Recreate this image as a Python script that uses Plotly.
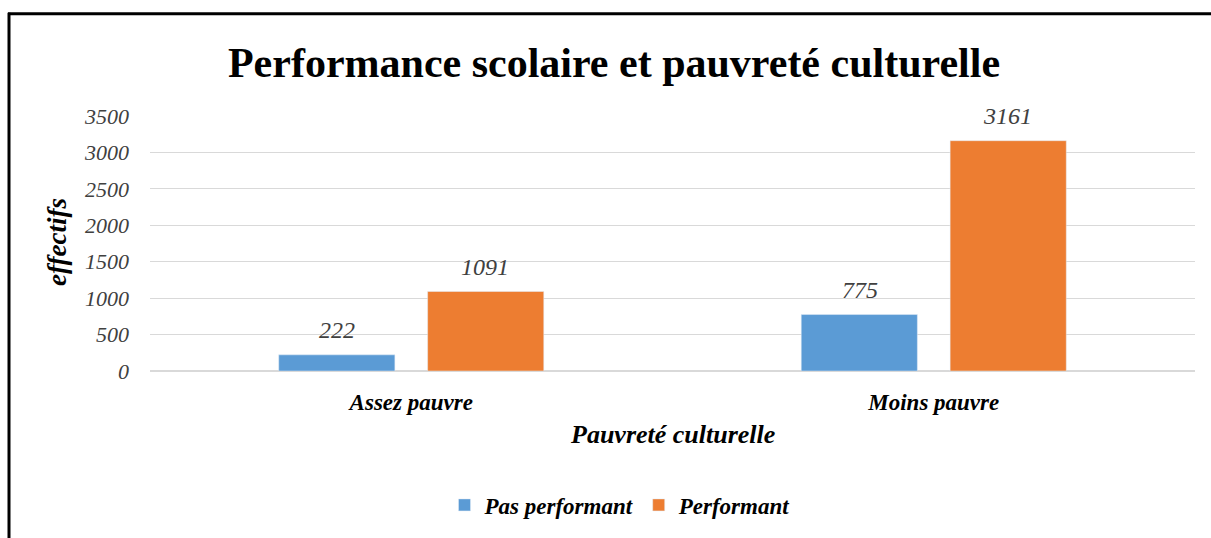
import plotly.graph_objects as go

categories = ["Assez pauvre", "Moins pauvre"]
pas_performant = [222, 775]
performant = [1091, 3161]
y_ticks = [0, 500, 1000, 1500, 2000, 2500, 3000, 3500]

serif = "Liberation Serif, Times New Roman, serif"

W, H = 1211, 538
L, R, T, B = 150, 16, 116, 165
PW, PH = W - L - R, H - T - B

def px_x(x):
    return (x - L) / PW

def px_y(y):
    return (H - B - y) / PH

fig = go.Figure()
fig.add_trace(go.Bar(
    name="<b><i>Pas performant</i></b>", x=categories, y=pas_performant,
    marker_color="#5B9BD5",
))
fig.add_trace(go.Bar(
    name="<b><i>Performant</i></b>", x=categories, y=performant,
    marker_color="#ED7D31",
))

annotations = []
for series, shift in ((pas_performant, -74), (performant, 74)):
    for cat, v in zip(categories, series):
        annotations.append(dict(
            x=cat, y=v, xref="x", yref="y", text=f"<i>{v}</i>",
            showarrow=False, xshift=shift, yshift=25, yanchor="middle",
            font=dict(family=serif, size=24, color="#404040"),
        ))
annotations.append(dict(
    x=px_x(57), y=px_y(243), xref="paper", yref="paper",
    text="<b><i>effectifs</i></b>", textangle=-90, showarrow=False,
    xanchor="center", yanchor="middle",
    font=dict(family=serif, size=27, color="black"),
))
annotations.append(dict(
    x=px_x(672), y=px_y(437), xref="paper", yref="paper",
    text="<b><i>Pauvreté culturelle</i></b>", showarrow=False,
    xanchor="center", yanchor="middle",
    font=dict(family=serif, size=26, color="black"),
))

fig.update_layout(
    width=W, height=H,
    margin=dict(l=L, r=R, t=T, b=B),
    paper_bgcolor="white", plot_bgcolor="white",
    barmode="group", bargap=0.43, bargroupgap=0.22,
    title=dict(text="<b>Performance scolaire et pauvreté culturelle</b>",
               x=614 / W, xanchor="center",
               y=1 - 62 / H, yanchor="middle",
               font=dict(family=serif, size=42, color="black")),
    font=dict(family=serif, color="black"),
    showlegend=True,
    legend=dict(orientation="h", x=px_x(620), xanchor="center",
                y=px_y(508), yanchor="middle",
                font=dict(family=serif, size=23, color="black"),
                itemwidth=30, traceorder="normal"),
    annotations=annotations,
    xaxis=dict(
        tickfont=dict(family=serif, size=23, color="black"),
        tickprefix="<b><i>", ticksuffix="</i></b>",
        showline=True, linecolor="#D9D9D9", linewidth=1,
        ticklabelstandoff=10,
    ),
    yaxis=dict(
        range=[0, 3500], tickvals=y_ticks,
        tickfont=dict(family=serif, size=22, color="#404040", style="italic"),
        showgrid=True, gridcolor="#D9D9D9", gridwidth=1,
        zeroline=True, zerolinecolor="#D9D9D9",
        ticks="", ticklen=0, ticklabelstandoff=20,
    ),
    shapes=[
        dict(type="line", xref="paper", yref="paper",
             x0=px_x(8), x1=px_x(1300), y0=px_y(13), y1=px_y(13),
             line=dict(color="black", width=3)),
        dict(type="line", xref="paper", yref="paper",
             x0=px_x(9), x1=px_x(9), y0=px_y(12), y1=px_y(700),
             line=dict(color="black", width=3)),
    ],
)

fig.write_html(
    "out.html",
    config={"displayModeBar": False},
    post_script="document.body.style.margin='0';document.body.style.overflow='hidden';",
)
